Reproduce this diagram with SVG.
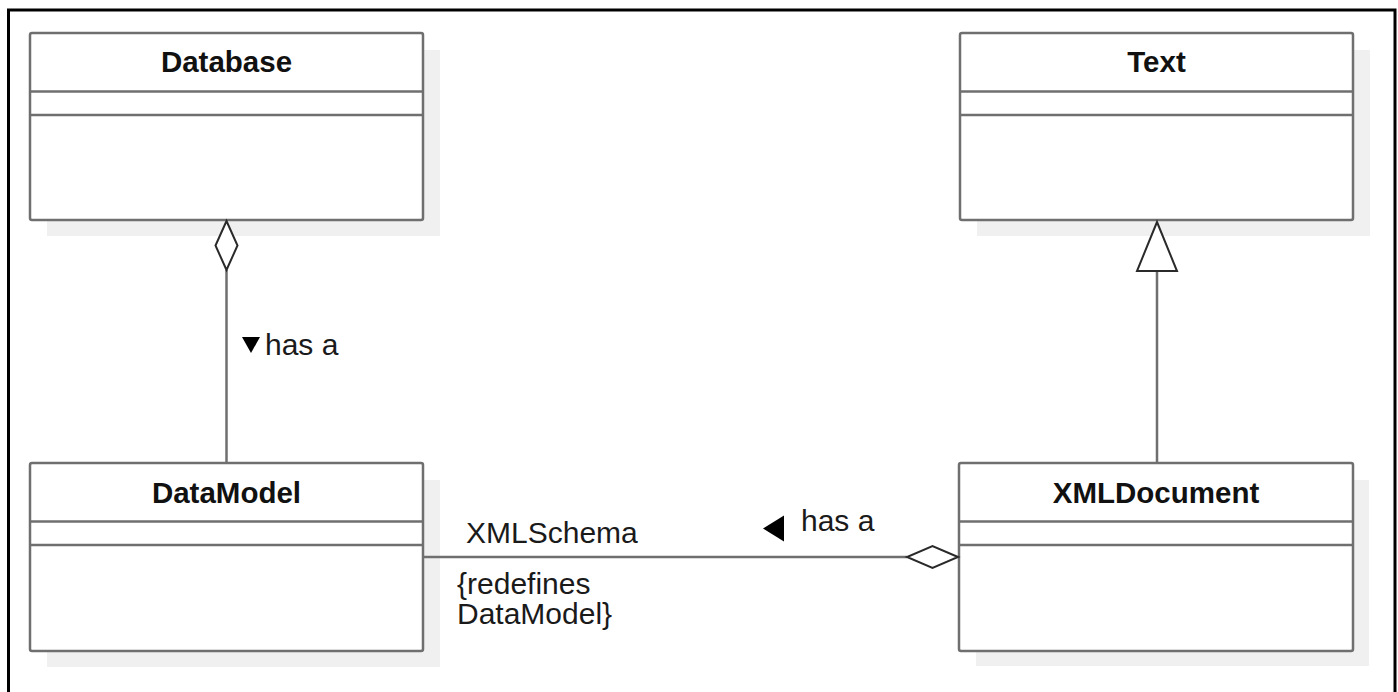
<svg xmlns="http://www.w3.org/2000/svg" width="1398" height="692" viewBox="0 0 1398 692">
  <style>
    .shadow { fill: #f0f0f0; stroke: none; }
    .box { fill: #ffffff; stroke: #6f6f6f; stroke-width: 2.5; }
    .sep { stroke: #6f6f6f; stroke-width: 2.5; fill: none; }
    .title { font-family: "Liberation Sans", Arial, sans-serif; font-weight: bold; font-size: 29.5px; fill: #111111; text-anchor: middle; }
    .label { font-family: "Liberation Sans", Arial, sans-serif; font-size: 30px; fill: #1a1a1a; }
    .edge { stroke: #6f6f6f; stroke-width: 2.5; fill: none; }
    .head { fill: #ffffff; stroke: #2a2a2a; stroke-width: 2; stroke-linejoin: miter; }
    .dir { fill: #000000; stroke: none; }
  </style>
  <rect x="0" y="0" width="1398" height="692" fill="#ffffff"/>
  <rect x="8.5" y="10" width="1386.5" height="700" fill="none" stroke="#000000" stroke-width="3"/>

  <g id="node-database">
    <rect class="shadow" x="47" y="50" width="393" height="186"/>
    <rect class="box" x="30" y="33" width="393" height="187" rx="2"/>
    <line class="sep" x1="30" y1="91.5" x2="423" y2="91.5"/>
    <line class="sep" x1="30" y1="115" x2="423" y2="115"/>
    <text class="title" x="226.5" y="72">Database</text>
  </g>

  <g id="node-text">
    <rect class="shadow" x="977" y="50" width="393" height="186"/>
    <rect class="box" x="960" y="33" width="393" height="187" rx="2"/>
    <line class="sep" x1="960" y1="91.5" x2="1353" y2="91.5"/>
    <line class="sep" x1="960" y1="115" x2="1353" y2="115"/>
    <text class="title" x="1156.5" y="72">Text</text>
  </g>

  <g id="node-datamodel">
    <rect class="shadow" x="47" y="480" width="393" height="187"/>
    <rect class="box" x="30" y="463" width="393" height="188" rx="2"/>
    <line class="sep" x1="30" y1="521.5" x2="423" y2="521.5"/>
    <line class="sep" x1="30" y1="545" x2="423" y2="545"/>
    <text class="title" x="226.5" y="503">DataModel</text>
  </g>

  <g id="node-xmldocument">
    <rect class="shadow" x="976" y="480" width="393" height="186"/>
    <rect class="box" x="959" y="463" width="394" height="188" rx="2"/>
    <line class="sep" x1="959" y1="521.5" x2="1353" y2="521.5"/>
    <line class="sep" x1="959" y1="545" x2="1353" y2="545"/>
    <text class="title" x="1156" y="503">XMLDocument</text>
  </g>

  <g id="connectors">
    <!-- Database <>— DataModel aggregation -->
    <line class="edge" x1="226.5" y1="270" x2="226.5" y2="463"/>
    <polygon class="head" points="226.5,221 237.5,245.5 226.5,270 215.5,245.5"/>
    <polygon class="dir" points="242,337 260,337 251,353"/>
    <text class="label" x="265" y="355">has a</text>

    <!-- XMLDocument generalization to Text -->
    <line class="edge" x1="1157" y1="271" x2="1157" y2="463"/>
    <polygon class="head" points="1157,222 1177,271 1137,271"/>

    <!-- DataModel — XMLDocument aggregation -->
    <line class="edge" x1="423" y1="557" x2="907" y2="557"/>
    <polygon class="head" points="958,557 932.5,546 907,557 932.5,568"/>
    <polygon class="dir" points="763,528.5 784,515.5 784,541.5"/>
    <text class="label" x="801" y="531">has a</text>
    <text class="label" x="466" y="543">XMLSchema</text>
    <text class="label" x="457" y="594">{redefines</text>
    <text class="label" x="457" y="624">DataModel}</text>
  </g>
</svg>
